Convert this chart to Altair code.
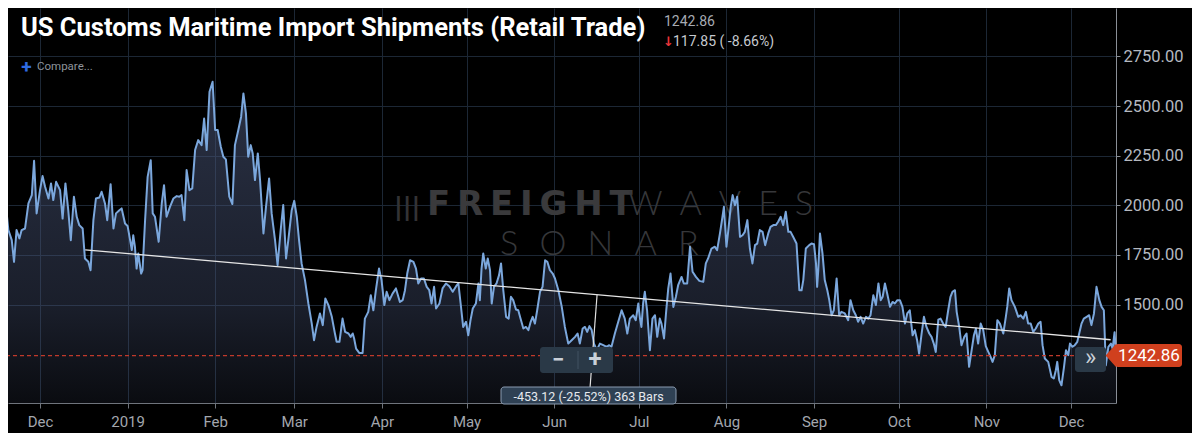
import json
import pandas as pd
import altair as alt

# ---------------- data ----------------
# (day offset from 2018-12-01, shipments)
seg_dec18 = [(-14.2, 2311), (-13.0, 2127), (-11.2, 1875), (-10.0, 1824), (-9.2, 1715), (-8.3, 1875),
             (-7.3, 1833), (-6.5, 1875), (-5.3, 1883), (-4.1, 2009), (-2.9, 2051), (-2.1, 2224),
             (-1.2, 1959), (0.0, 2076), (0.9, 2147), (1.8, 2093), (3.0, 2034), (3.9, 2110),
             (4.7, 2026), (5.7, 2118), (7.1, 2076), (8.0, 1933), (9.0, 2110), (10.0, 1975),
             (10.9, 1824), (12.0, 2043), (13.0, 1942), (13.9, 1900), (15.1, 1883), (15.9, 1732),
             (17.1, 1715), (17.9, 1673), (18.9, 1925), (19.8, 2034), (21.0, 2039), (21.8, 2068),
             (23.0, 2009), (23.8, 1925), (25.0, 2106), (26.0, 1883), (26.9, 1959), (28.1, 1975),
             (28.9, 1984), (30.1, 1908), (31.0, 1896), (31.9, 1824), (32.5, 1774), (33.0, 1849),
             (33.6, 1791), (34.2, 1681), (34.8, 1757), (35.8, 1656), (36.3, 1673), (37.2, 1925),
             (38.1, 2143), (39.2, 2227), (39.9, 1959), (40.7, 1942), (42.0, 1816), (43.1, 2009),
             (43.9, 2101), (44.8, 1942), (46.0, 1992), (47.2, 2034), (48.4, 2046), (49.3, 2043),
             (50.1, 2051), (51.1, 1925), (51.9, 2177), (52.9, 2076), (53.9, 2085), (54.9, 2278),
             (56.0, 2328)]
seg_feb = [(57.2, 2303), (58.1, 2437), (59.0, 2278), (60.0, 2572), (61.1, 2622), (62.0, 2379),
           (62.9, 2379), (64.0, 2295), (64.9, 2244), (65.8, 2231), (67.0, 2043), (68.1, 2006),
           (69.0, 2303), (70.2, 2379), (71.2, 2446), (72.0, 2563), (72.9, 2463), (73.7, 2244),
           (74.6, 2303), (75.3, 2261), (76.1, 2127), (77.1, 2261), (77.9, 2127), (79.1, 1858),
           (80.0, 1992), (81.1, 2135), (82.0, 1959), (83.2, 1824), (84.1, 1698), (85.2, 1875),
           (86.1, 2001), (87.1, 1732), (87.9, 1824), (89.1, 1975), (90.0, 2022), (90.9, 1942),
           (91.7, 1824), (92.6, 1707), (93.8, 1623), (95.0, 1505), (96.2, 1404), (97.0, 1320),
           (97.9, 1387), (99.1, 1455), (100.1, 1396), (101.0, 1530), (102.1, 1497), (103.3, 1438),
           (104.4, 1354), (105.0, 1312), (106.0, 1312), (107.1, 1429), (108.0, 1362), (109.2, 1354),
           (110.0, 1337), (110.7, 1354), (111.2, 1329), (111.9, 1278), (113.0, 1256), (114.2, 1256),
           (115.0, 1429), (116.2, 1463), (117.1, 1547), (118.0, 1471), (118.9, 1572), (120.0, 1681),
           (120.9, 1623), (121.9, 1497), (122.7, 1564), (123.7, 1522), (124.8, 1555), (126.0, 1581)]
seg_apr = [(127.4, 1513), (128.4, 1522), (129.2, 1572), (130.0, 1656), (131.0, 1723), (132.2, 1715),
           (133.1, 1681), (133.9, 1606), (134.9, 1631), (135.9, 1631), (136.9, 1589), (137.8, 1572),
           (138.6, 1505), (139.5, 1589), (140.2, 1480), (141.4, 1505), (142.5, 1581), (143.7, 1606),
           (144.9, 1592), (146.1, 1564), (147.3, 1592), (148.1, 1606), (148.9, 1505), (149.8, 1387),
           (150.8, 1413), (151.6, 1345), (152.4, 1421), (153.2, 1480), (154.3, 1505), (155.2, 1606),
           (155.7, 1522), (156.3, 1681), (156.9, 1757), (157.8, 1681), (158.5, 1732), (159.3, 1673),
           (159.9, 1505), (160.7, 1589), (161.6, 1606), (162.5, 1648), (163.2, 1707), (164.0, 1572),
           (165.0, 1438), (165.9, 1429), (166.7, 1539), (167.5, 1522), (168.5, 1475), (169.3, 1471),
           (170.1, 1429), (171.1, 1379), (172.0, 1387), (172.9, 1371), (173.7, 1413), (174.4, 1438),
           (175.2, 1404), (176.0, 1471), (177.0, 1564), (177.9, 1589), (178.8, 1723), (179.6, 1715),
           (180.5, 1673), (181.5, 1656), (182.3, 1631), (183.5, 1572), (184.7, 1488), (185.8, 1387),
           (187.0, 1303), (188.2, 1320), (189.4, 1337), (190.3, 1354), (191.1, 1303), (192.1, 1379),
           (192.9, 1387), (193.7, 1362), (194.5, 1391), (195.3, 1371), (196.1, 1303), (197.1, 1270)]
seg_jul = [(198.2, 1303), (199.4, 1295), (200.6, 1287), (201.5, 1295), (202.3, 1287), (203.5, 1354),
           (204.7, 1413), (205.9, 1471), (207.0, 1429), (207.9, 1354), (208.8, 1429), (210.0, 1446),
           (210.9, 1421), (211.8, 1505), (212.4, 1429), (212.9, 1387), (213.5, 1505), (214.1, 1564),
           (214.9, 1471), (215.9, 1270), (216.8, 1429), (217.7, 1446), (218.5, 1337), (219.4, 1429),
           (220.0, 1404), (220.9, 1329), (221.6, 1455), (222.4, 1581), (223.2, 1656), (224.2, 1488),
           (225.1, 1539), (225.9, 1597), (227.1, 1639), (227.9, 1606), (229.1, 1606), (230.1, 1791),
           (231.0, 1665), (232.2, 1639), (233.4, 1619), (234.8, 1614), (235.7, 1707), (236.5, 1732),
           (237.7, 1782), (238.9, 1791), (239.7, 1774), (240.7, 1858), (241.6, 1942), (242.1, 1992),
           (243.0, 1791), (243.6, 1866), (244.5, 1992), (245.2, 2051), (246.0, 2000), (246.8, 2043),
           (247.8, 1841), (248.7, 1849), (249.5, 1866), (250.4, 1925), (251.3, 1782), (252.2, 1707),
           (253.1, 1799), (253.9, 1807), (254.8, 1875), (255.8, 1866), (256.7, 1799), (257.8, 1858),
           (258.6, 1891), (259.6, 1900), (260.5, 1900), (261.3, 1917), (262.2, 1942), (263.1, 1900),
           (264.0, 1967), (264.9, 1866), (265.7, 1866), (266.6, 1841), (267.8, 1807), (268.8, 1572)]
seg_sep = [(269.6, 1572), (270.2, 1623), (271.1, 1782), (272.3, 1799), (273.1, 1807), (274.0, 1804),
           (274.7, 1707), (275.1, 1589), (275.5, 1673), (276.1, 1858), (277.0, 1757), (277.8, 1623),
           (278.7, 1572), (279.4, 1522), (280.2, 1446), (281.0, 1471), (282.0, 1631), (282.9, 1446),
           (283.7, 1463), (284.9, 1455), (286.1, 1421), (286.9, 1522), (287.9, 1471), (288.8, 1446),
           (289.6, 1413), (290.5, 1438), (291.4, 1404), (292.4, 1438), (293.2, 1429), (294.0, 1446),
           (295.0, 1547), (295.9, 1497), (296.8, 1606), (297.6, 1522), (298.3, 1539), (299.1, 1606),
           (299.9, 1555), (300.9, 1488), (301.8, 1513), (302.6, 1505), (303.5, 1522), (304.4, 1522),
           (305.3, 1488), (306.2, 1404), (307.0, 1455), (307.9, 1471), (308.9, 1345), (309.7, 1371),
           (310.5, 1320), (311.2, 1253), (312.1, 1354), (312.9, 1438), (313.8, 1387), (314.8, 1354),
           (315.6, 1337), (316.4, 1303), (317.1, 1261), (318.0, 1424), (318.8, 1429), (319.7, 1404),
           (320.6, 1387), (321.5, 1471), (322.3, 1539), (323.0, 1564), (323.9, 1572), (324.5, 1463),
           (325.4, 1387), (326.2, 1295), (327.2, 1337), (328.0, 1354), (328.9, 1186), (329.8, 1270),
           (330.6, 1345), (331.3, 1379), (332.1, 1303), (333.0, 1404), (333.9, 1371), (334.8, 1290),
           (335.7, 1261), (336.5, 1236), (337.2, 1211), (338.0, 1245), (338.9, 1421)]
seg_dec19 = [(339.8, 1404), (341.0, 1354), (341.9, 1438), (342.4, 1488), (343.1, 1581), (343.9, 1522),
             (345.1, 1488), (346.3, 1438), (347.1, 1446), (348.1, 1429), (349.0, 1463), (349.8, 1404),
             (350.7, 1404), (351.6, 1362), (352.5, 1379), (353.4, 1404), (354.2, 1413), (354.9, 1295),
             (355.7, 1228), (356.9, 1211), (358.1, 1135), (358.9, 1127), (359.6, 1169), (360.1, 1211),
             (360.8, 1119), (361.6, 1093), (362.5, 1186), (363.2, 1270), (364.0, 1245), (364.6, 1303),
             (365.5, 1287), (366.3, 1295), (367.2, 1312), (368.7, 1404), (369.5, 1429), (370.5, 1438),
             (371.4, 1446), (372.2, 1396), (373.1, 1455), (374.0, 1589), (375.0, 1522), (375.8, 1488),
             (376.6, 1471), (377.3, 1194), (378.2, 1287), (379.1, 1303), (379.7, 1278),
             (380.4, 1360.71), (380.9, 1242.86)]

month_days = [0, 31, 62, 90, 121, 151, 182, 212, 243, 274, 304, 335, 365]
month_labels = ["Dec", "2019", "Feb", "Mar", "Apr", "May", "Jun", "Jul", "Aug", "Sep", "Oct", "Nov", "Dec"]
y_ticks = [1500, 1750, 2000, 2250, 2500, 2750]

trend_days = [16, 379]
trend_vals = [1775.55, 1322.43]

title_text = "US Customs Maritime Import Shipments (Retail Trade)"

# ---------------- derived ----------------
points = seg_dec18 + seg_feb + seg_apr + seg_jul + seg_sep + seg_dec19
df = pd.DataFrame(points, columns=["day", "value"])
last_val = seg_dec19[-1][1]
prev_val = seg_dec19[-2][1]
chg = last_val - prev_val
chg_pct = chg / prev_val * 100
trend_df = pd.DataFrame({"day": trend_days, "value": trend_vals})
t_delta = trend_vals[1] - trend_vals[0]
t_pct = t_delta / trend_vals[0] * 100
t_bars = trend_days[1] - trend_days[0]
measure_day = 197.2
measure_val = trend_vals[0] + (measure_day - trend_days[0]) * t_delta / t_bars

X_MIN, X_MAX = -11.33, 380.9
Y_MIN, Y_MAX = 1003.8, 2993.7
W, H = 1108, 395
GRID = "#1c2735"

label_expr = f"{json.dumps(month_labels)}[indexof({json.dumps(month_days)}, datum.value)]"

x_enc = alt.X("day:Q",
              scale=alt.Scale(domain=[X_MIN, X_MAX], nice=False, zero=False),
              axis=alt.Axis(values=month_days, labelExpr=label_expr, title=None, grid=True,
                            gridColor=GRID, gridWidth=1, domainColor="#6f747c", tickColor="#6f747c",
                            tickSize=5, labelColor="#a3a7ae", labelFont="Roboto", labelFontSize=15,
                            labelPadding=6, labelFlush=False, labelOverlap=False))
y_enc = alt.Y("value:Q",
              scale=alt.Scale(domain=[Y_MIN, Y_MAX], nice=False, zero=False),
              axis=alt.Axis(orient="right", values=y_ticks, format=".2f", title=None, grid=True,
                            gridColor=GRID, gridWidth=1, domainColor="#8a8f97", tickColor="#8a8f97",
                            tickSize=4, labelPadding=3, labelColor="#b5b9c0", labelFont="Roboto",
                            labelFontSize=16.5, labelFlush=False, labelOverlap=False))

one = pd.DataFrame({"k": [0]})


def txt(s, x, y, size, color, font="Roboto", weight="normal", align="left", baseline="alphabetic"):
    return alt.Chart(one).mark_text(text=s, align=align, baseline=baseline, font=font, fontSize=size,
                                    fontWeight=weight, color=color).encode(x=alt.value(x), y=alt.value(y))


def box(x1, x2, y1, y2, fill, stroke=""):
    kw = dict(fill=fill, cornerRadius=3)
    if stroke:
        kw.update(stroke=stroke, strokeWidth=1)
    return alt.Chart(one).mark_rect(**kw).encode(x=alt.value(x1), x2=alt.value(x2),
                                                  y=alt.value(y1), y2=alt.value(y2))


thin = "\u2009"
en = "\u2002"
wm_color = "#3a3a3c"
watermark = [
    txt("|||", 386, 207, 24, "#333335", font="DejaVu Sans", weight="bold"),
    txt(thin.join("FREIGHT"), 419, 207, 34, wm_color, font="DejaVu Sans", weight="bold"),
    txt(en.join("WAVES"), 620, 207, 34, "#36373a", font="Lato", weight=300),
    txt((en + thin).join("SONAR"), 492, 247, 34, "#36373a", font="Lato", weight=300),
]

grad = alt.LinearGradient(
    gradient="linear",
    stops=[alt.GradientStop(color="rgba(72,84,118,0.58)", offset=0),
           alt.GradientStop(color="rgba(72,84,118,0.36)", offset=0.7),
           alt.GradientStop(color="rgba(72,84,118,0.14)", offset=1)],
    x1=1, x2=1, y1=0, y2=1)

area = alt.Chart(df).mark_area(clip=True, color=grad).encode(x=x_enc, y=y_enc, y2=alt.Y2(datum=Y_MIN))
line = alt.Chart(df).mark_line(clip=True, color="#7ba7dc", strokeWidth=2, strokeJoin="round").encode(
    x=x_enc, y=y_enc)
trend = alt.Chart(trend_df).mark_line(color="#e6e6e6", strokeWidth=1.3).encode(x=x_enc, y=y_enc)
last_rule = alt.Chart(one).mark_rule(color="#c0392b", strokeDash=[4, 3], strokeWidth=1.2).encode(
    y=alt.Y(datum=last_val))
measure_rule = alt.Chart(one).mark_rule(color="#e0e0e0", strokeWidth=1.2).encode(
    x=alt.X(datum=measure_day), x2=alt.X2(datum=194.7),
    y=alt.Y(datum=measure_val), y2=alt.Y2(datum=1079.3))

btn_fill = "#2a3947"
ui = [
    # zoom buttons
    box(532, 605, 339, 365, btn_fill),
    alt.Chart(one).mark_rule(color="#415263", strokeWidth=1).encode(
        x=alt.value(570), y=alt.value(343), y2=alt.value(361)),
    txt("\u2212", 550, 352, 22, "#c9d0d8", weight="bold", align="center", baseline="middle"),
    txt("+", 587, 352, 24, "#c9d0d8", weight="bold", align="center", baseline="middle"),
    # measurement label
    box(493, 668, 379, 396, "#2f4154", stroke="#8a9bb0"),
    txt(f"{t_delta:.2f} ({t_pct:.2f}%) {t_bars} Bars", 580.5, 388.5, 12.5, "#e6e9ee",
        align="center", baseline="middle"),
    # scroll button
    box(1067, 1098, 339, 364, btn_fill),
    txt("\u00bb", 1082.5, 350, 24, "#c9d0d8", align="center", baseline="middle"),
    # last value label
    box(1107, 1174, 336, 359, "#d0401e"),
    alt.Chart(one).mark_point(shape="M0,-1L-0.9,0L0,1Z", size=529, filled=True, fill="#d0401e",
                              opacity=1, strokeWidth=0).encode(x=alt.value(1108), y=alt.Y(datum=last_val)),
    alt.Chart(one).mark_text(text=f"{last_val:.2f}", align="center", baseline="middle", font="Roboto",
                             fontSize=17, color="#ffffff").encode(x=alt.value(1141), y=alt.Y(datum=last_val)),
    # header
    txt(title_text, 13, 28, 25.5, "#ffffff", font="Roboto", weight="bold"),
    txt(f"{last_val:.2f}", 656, 18, 14, "#a7abb3"),
    txt("\u2193", 655, 38, 13, "#e8343a", font="DejaVu Sans", weight="bold"),
    txt(f"{abs(chg):.2f} ( {chg_pct:.2f}%)", 665, 38, 14, "#c6c9cf"),
    txt("+", 18.5, 58.5, 19, "#2f6be0", weight="bold", align="center", baseline="middle"),
    txt("Compare...", 29, 59, 11.5, "#8e939b", baseline="middle"),
]

chart = alt.layer(*watermark, area, line, trend, last_rule, measure_rule, *ui).properties(
    width=W, height=H, background="#000000",
    padding={"left": 0, "top": 0, "right": 76, "bottom": 30},
    autosize=alt.AutoSizeParams(type="none"),
).configure_view(strokeWidth=0)

chart.save("out.html", embed_options={"renderer": "svg", "actions": False})
